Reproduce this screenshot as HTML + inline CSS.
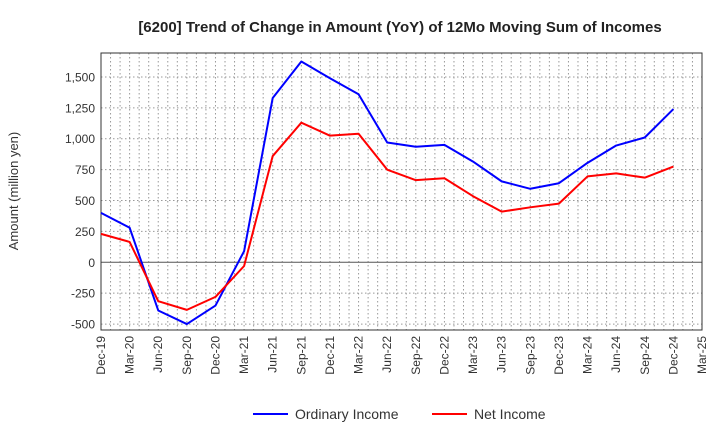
<!DOCTYPE html>
<html><head><meta charset="utf-8"><style>
body{margin:0;background:#fff;}
svg text{font-family:"Liberation Sans",sans-serif;}
</style></head><body>
<svg width="720" height="440" viewBox="0 0 720 440">
<text x="400" y="32" text-anchor="middle" font-size="15" font-weight="bold" fill="#222">[6200]  Trend of Change in Amount (YoY) of 12Mo Moving Sum of Incomes</text>
<g id="grid"></g>
<g id="axes"></g>
<g id="series"></g>
<text transform="translate(18,191) rotate(-90)" text-anchor="middle" font-size="13" fill="#333">Amount (million yen)</text>
<g>
<g><line x1="253" y1="414" x2="288" y2="414" stroke="#0000ff" stroke-width="2"/><text x="295" y="419" font-size="14" fill="#333">Ordinary Income</text></g>
<g><line x1="432" y1="414" x2="467" y2="414" stroke="#ff0000" stroke-width="2"/><text x="474" y="419" font-size="14" fill="#333">Net Income</text></g>
</g>
</svg>
<script>
const categories=["Dec-19","Mar-20","Jun-20","Sep-20","Dec-20","Mar-21","Jun-21","Sep-21","Dec-21","Mar-22","Jun-22","Sep-22","Dec-22","Mar-23","Jun-23","Sep-23","Dec-23","Mar-24","Jun-24","Sep-24","Dec-24","Mar-25"];
const ordinaryIncome=[400,280,-390,-500,-350,90,1330,1625,1490,1360,970,935,950,815,655,595,640,805,945,1010,1240];
const netIncome=[230,165,-315,-385,-280,-30,860,1130,1025,1040,750,665,680,535,410,445,475,695,720,685,775];
const yTicks=[-500,-250,0,250,500,750,1000,1250,1500];
const yTickLabels=["-500","-250","0","250","500","750","1,000","1,250","1,500"];
const L=101,R=702,T=53,B=330;
const yMin=-548,yMax=1694;
const NS="http://www.w3.org/2000/svg";
function xs(i){return L+(R-L)*i/(categories.length-1);}
function ys(v){return B-(v-yMin)/(yMax-yMin)*(B-T);}
function mk(tag,attrs,parent){const e=document.createElementNS(NS,tag);for(const k in attrs)e.setAttribute(k,attrs[k]);parent.appendChild(e);return e;}
const grid=document.getElementById('grid'),axes=document.getElementById('axes'),series=document.getElementById('series');
const months=(categories.length-1)*3;
for(let m=1;m<months;m++){const x=L+(R-L)*m/months;
const g=mk('line',{x1:x,x2:x,y1:T,y2:B,stroke:'#999','stroke-dasharray':'1.5,2.5','stroke-width':1},grid);

}
yTicks.forEach((v,i)=>{const y=ys(v);
const g=mk('line',{x1:L,x2:R,y1:y,y2:y,stroke:v===0?'#555':'#999','stroke-dasharray':v===0?'none':'1.5,2.5','stroke-width':1},grid);


const t=mk('text',{x:L-6,y:y+4.5,'text-anchor':'end','font-size':12,fill:'#333'},axes);t.textContent=yTickLabels[i];

});
const frame=mk('rect',{x:L,y:T,width:R-L,height:B-T,fill:'none',stroke:'#333','stroke-width':1},axes);


categories.forEach((c,i)=>{const x=xs(i);
const t=mk('text',{transform:`translate(${x+4},${B+6}) rotate(-90)`,'text-anchor':'end','font-size':12,fill:'#333'},axes);t.textContent=c;

});
function line(data,color,name){const p=mk('polyline',{points:data.map((v,i)=>xs(i)+','+ys(v)).join(' '),fill:'none',stroke:color,'stroke-width':2,'stroke-linejoin':'round'},series);

}
line(ordinaryIncome,'#0000ff','ordinary-income-line');
line(netIncome,'#ff0000','net-income-line');
</script>
</body></html>
